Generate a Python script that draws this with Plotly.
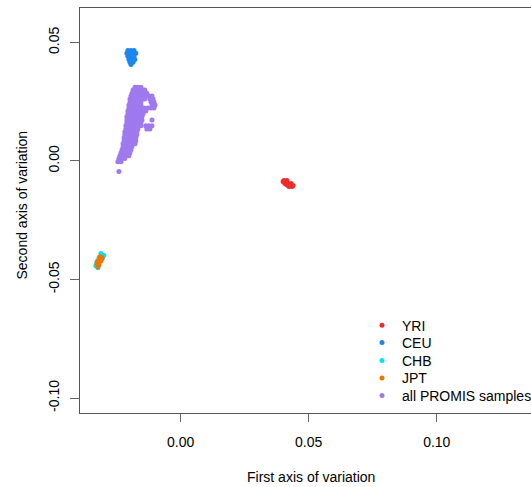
import plotly.graph_objects as go

# ---- data ----
yri_x = [0.0404, 0.0415, 0.0411, 0.0407, 0.0419, 0.0431, 0.0427, 0.0423, 0.0435,
         0.0400, 0.0419, 0.0439, 0.0413]
yri_y = [-0.0083, -0.0083, -0.0087, -0.0095, -0.0095, -0.0095, -0.0104, -0.0108, -0.0108,
         -0.0087, -0.0102, -0.0104, -0.0099]

ceu_x = [-0.0206, -0.0194, -0.0182, -0.0210, -0.0198, -0.0186, -0.0175,
         -0.0206, -0.0194, -0.0182, -0.0202, -0.0190, -0.0179,
         -0.0198, -0.0186, -0.0194]
ceu_y = [0.0466, 0.0466, 0.0466, 0.0454, 0.0454, 0.0454, 0.0454,
         0.0441, 0.0441, 0.0441, 0.0428, 0.0428, 0.0428,
         0.0416, 0.0416, 0.0407]

chb_x = [-0.0311, -0.0300, -0.0319, -0.0307, -0.0327, -0.0315, -0.0331, -0.0323, -0.0304]
chb_y = [-0.0390, -0.0399, -0.0408, -0.0412, -0.0425, -0.0425, -0.0442, -0.0450, -0.0404]

jpt_x = [-0.0315, -0.0307, -0.0323, -0.0311, -0.0327, -0.0319, -0.0323]
jpt_y = [-0.0404, -0.0408, -0.0421, -0.0421, -0.0433, -0.0438, -0.0446]

promis_x = [
    -0.0178, -0.0167, -0.0155,
    -0.0186, -0.0175, -0.0163, -0.0151, -0.0140,
    -0.0190, -0.0178, -0.0167, -0.0155, -0.0143, -0.0132,
    -0.0194, -0.0182, -0.0171, -0.0159, -0.0147, -0.0136, -0.0124, -0.0112,
    -0.0198, -0.0186, -0.0175, -0.0163, -0.0151, -0.0140, -0.0120, -0.0108,
    -0.0198, -0.0186, -0.0175, -0.0163, -0.0155, -0.0116, -0.0104,
    -0.0202, -0.0190, -0.0178, -0.0167, -0.0155, -0.0112, -0.0100,
    -0.0202, -0.0190, -0.0178, -0.0167, -0.0155, -0.0143, -0.0128, -0.0116, -0.0104,
    -0.0206, -0.0194, -0.0182, -0.0171, -0.0159, -0.0147, -0.0136,
    -0.0206, -0.0194, -0.0182, -0.0171, -0.0159, -0.0147,
    -0.0210, -0.0198, -0.0186, -0.0175, -0.0163, -0.0151,
    -0.0210, -0.0198, -0.0186, -0.0175, -0.0163, -0.0151, -0.0112,
    -0.0210, -0.0198, -0.0186, -0.0175, -0.0163, -0.0155,
    -0.0214, -0.0202, -0.0190, -0.0178, -0.0167, -0.0155, -0.0136, -0.0124, -0.0112,
    -0.0214, -0.0202, -0.0190, -0.0178, -0.0167, -0.0132, -0.0120,
    -0.0218, -0.0206, -0.0194, -0.0182, -0.0171,
    -0.0218, -0.0206, -0.0194, -0.0182, -0.0171,
    -0.0221, -0.0210, -0.0198, -0.0186, -0.0175,
    -0.0221, -0.0210, -0.0198, -0.0186, -0.0175,
    -0.0225, -0.0214, -0.0202, -0.0190, -0.0178,
    -0.0225, -0.0214, -0.0202, -0.0190,
    -0.0229, -0.0218, -0.0206, -0.0194,
    -0.0233, -0.0221, -0.0210, -0.0198,
    -0.0237, -0.0225, -0.0214, -0.0202,
    -0.0241, -0.0229, -0.0218,
    -0.0245, -0.0233,
    -0.0241,
]
promis_y = [
    0.0311, 0.0311, 0.0311,
    0.0299, 0.0299, 0.0299, 0.0299, 0.0299,
    0.0286, 0.0286, 0.0286, 0.0286, 0.0286, 0.0286,
    0.0274, 0.0274, 0.0274, 0.0274, 0.0274, 0.0274, 0.0274, 0.0274,
    0.0261, 0.0261, 0.0261, 0.0261, 0.0261, 0.0261, 0.0261, 0.0261,
    0.0249, 0.0249, 0.0249, 0.0249, 0.0249, 0.0249, 0.0249,
    0.0236, 0.0236, 0.0236, 0.0236, 0.0236, 0.0236, 0.0236,
    0.0223, 0.0223, 0.0223, 0.0223, 0.0223, 0.0223, 0.0223, 0.0223, 0.0223,
    0.0211, 0.0211, 0.0211, 0.0211, 0.0211, 0.0211, 0.0211,
    0.0198, 0.0198, 0.0198, 0.0198, 0.0198, 0.0198,
    0.0186, 0.0186, 0.0186, 0.0186, 0.0186, 0.0186,
    0.0173, 0.0173, 0.0173, 0.0173, 0.0173, 0.0173, 0.0173,
    0.0161, 0.0161, 0.0161, 0.0161, 0.0161, 0.0161,
    0.0148, 0.0148, 0.0148, 0.0148, 0.0148, 0.0148, 0.0148, 0.0148, 0.0148,
    0.0135, 0.0135, 0.0135, 0.0135, 0.0135, 0.0135, 0.0135,
    0.0123, 0.0123, 0.0123, 0.0123, 0.0123,
    0.0110, 0.0110, 0.0110, 0.0110, 0.0110,
    0.0098, 0.0098, 0.0098, 0.0098, 0.0098,
    0.0085, 0.0085, 0.0085, 0.0085, 0.0085,
    0.0073, 0.0073, 0.0073, 0.0073, 0.0073,
    0.0060, 0.0060, 0.0060, 0.0060,
    0.0047, 0.0047, 0.0047, 0.0047,
    0.0035, 0.0035, 0.0035, 0.0035,
    0.0022, 0.0022, 0.0022, 0.0022,
    0.0010, 0.0010, 0.0010,
    -0.0003, -0.0003,
    -0.0045,
]

series_names = ["YRI", "CEU", "CHB", "JPT", "all PROMIS samples"]
series_colors = ["#EE2C2C", "#1C86EE", "#00E5EE", "#EE7600", "#9F79EE"]

x_tickvals = [0.0, 0.05, 0.10]
x_ticktext = ["0.00", "0.05", "0.10"]
y_tickvals = [-0.10, -0.05, 0.0, 0.05]
y_ticktext = ["-0.10", "-0.05", "0.00", "0.05"]

x_title = "First axis of variation"
y_title = "Second axis of variation"

# ---- layout helpers (pixel geometry of the plot area) ----
PLOT_L, PLOT_R, PLOT_T, PLOT_B = 80, 531, 8, 413
PW, PH = PLOT_R - PLOT_L, PLOT_B - PLOT_T


def px_x(px):
    return (px - PLOT_L) / PW


def px_y(py):
    return (PLOT_B - py) / PH


legend_row_centers = [324.7, 342.0, 359.8, 377.4, 395.0]
legend_left_px = 362

# ---- figure ----
FONT = "Liberation Sans, Arial, sans-serif"
fig = go.Figure()
series_data = [(yri_x, yri_y), (ceu_x, ceu_y), (chb_x, chb_y), (jpt_x, jpt_y), (promis_x, promis_y)]
legend_ids = ["legend", "legend2", "legend3", "legend4", "legend5"]
for (xs, ys), name, col, lid in zip(series_data, series_names, series_colors, legend_ids):
    fig.add_trace(go.Scatter(
        x=xs, y=ys, mode="markers", name=name, legend=lid,
        marker=dict(color=col, size=5, line=dict(width=0)),
        hoverinfo="skip",
    ))

legend_layout = {}
for lid, cy in zip(legend_ids, legend_row_centers):
    legend_layout[lid] = dict(
        x=px_x(legend_left_px), xanchor="left",
        y=px_y(cy - 15), yanchor="top",
        bgcolor="rgba(0,0,0,0)", borderwidth=0,
        font=dict(family=FONT, size=14, color="#000000"),
    )

fig.update_layout(
    width=531, height=487,
    margin=dict(l=PLOT_L, r=531 - PLOT_R, t=PLOT_T, b=487 - PLOT_B, pad=0,
                autoexpand=False),
    paper_bgcolor="white", plot_bgcolor="white",
    font=dict(family=FONT, size=14, color="#000000"),
    showlegend=True,
    xaxis=dict(
        range=[-0.0393, 0.1368],
        tickvals=x_tickvals, ticktext=x_ticktext,
        ticks="outside", ticklen=8, tickcolor="#666666", tickwidth=1,
        showline=True, linecolor="#555555", linewidth=1, mirror=True,
        showgrid=False, zeroline=False,
        tickfont=dict(family=FONT, size=14, color="#000000"),
        ticklabelstandoff=8,
    ),
    yaxis=dict(
        range=[-0.1063, 0.0645],
        tickvals=y_tickvals, ticktext=y_ticktext,
        ticks="outside", ticklen=9, tickcolor="#666666", tickwidth=1,
        showline=True, linecolor="#555555", linewidth=1, mirror=False,
        showgrid=False, zeroline=False, tickangle=-90,
        tickfont=dict(family=FONT, size=14, color="#000000"),
        ticklabelstandoff=5,
    ),
    annotations=[
        dict(text=x_title, xref="paper", yref="paper",
             x=px_x(310.5), y=px_y(477),
             xanchor="center", yanchor="middle", showarrow=False,
             font=dict(family=FONT, size=14, color="#000000")),
        dict(text=y_title, xref="paper", yref="paper",
             x=px_x(21.5), y=px_y(205),
             xanchor="center", yanchor="middle", showarrow=False, textangle=-90,
             font=dict(family=FONT, size=14, color="#000000")),
    ],
    **legend_layout,
)

fig.write_html(
    "out.html",
    config={"displayModeBar": False, "staticPlot": True},
    post_script="document.body.style.margin='0';document.body.style.overflow='hidden';",
)
